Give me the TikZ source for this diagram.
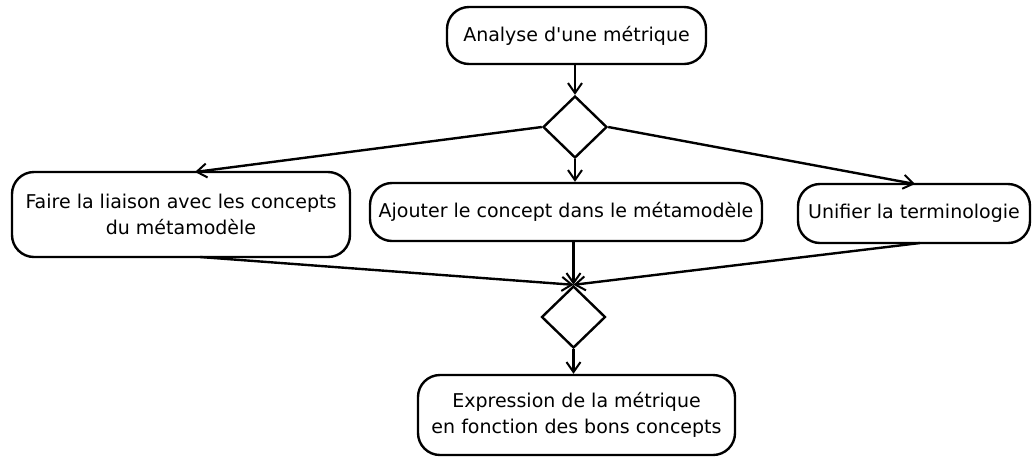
\documentclass[tikz,border=0pt]{standalone}
\usepackage{fontspec}
\setmainfont{DejaVu Sans}[Ligatures=TeXOff]
\usetikzlibrary{arrows.meta,shapes.geometric}
\begin{document}
\begin{tikzpicture}[x=1pt,y=-1pt,
  act/.style={draw,line width=2.4pt,rounded corners=22pt,align=center,font=\fontsize{19}{26}\selectfont,inner sep=0pt},
  dec/.style={draw,line width=2.4pt,diamond,minimum width=64pt,minimum height=62pt,inner sep=0pt},
  flow/.style={line width=2.4pt,-{Straight Barb[length=10pt,width=14pt,line width=2pt]}}]
\useasboundingbox (0,0) rectangle (1033,459);
\node[act,minimum width=259pt,minimum height=57pt] (a) at (576.5,35.5) {Analyse d'une métrique};
\node[dec] (d1) at (575,127) {};
\node[act,minimum width=338pt,minimum height=85pt] (l) at (181,214.5) {Faire la liaison avec les concepts\\du métamodèle};
\node[act,minimum width=392pt,minimum height=58pt] (m) at (566,212) {Ajouter le concept dans le métamodèle};
\node[act,minimum width=232pt,minimum height=59pt] (r) at (914,213.5) {Unifier la terminologie};
\node[dec] (d2) at (573.5,317) {};
\node[act,minimum width=317pt,minimum height=80pt] (b) at (576.5,415) {Expression de la métrique\\en fonction des bons concepts};
\draw[flow] (a.south -| d1.north) -- (d1.north);
\draw[flow] (d1.west) -- (195,172);
\draw[flow] (d1.south) -- (d1.south |- m.north);
\draw[flow] (d1.east) -- (915,184);
\draw[flow] (200,257) -- (d2.north);
\draw[flow] (d2.north |- m.south) -- (d2.north);
\draw[flow] (920,243) -- (d2.north);
\draw[flow] (d2.south) -- (d2.south |- b.north);
\end{tikzpicture}
\end{document}
